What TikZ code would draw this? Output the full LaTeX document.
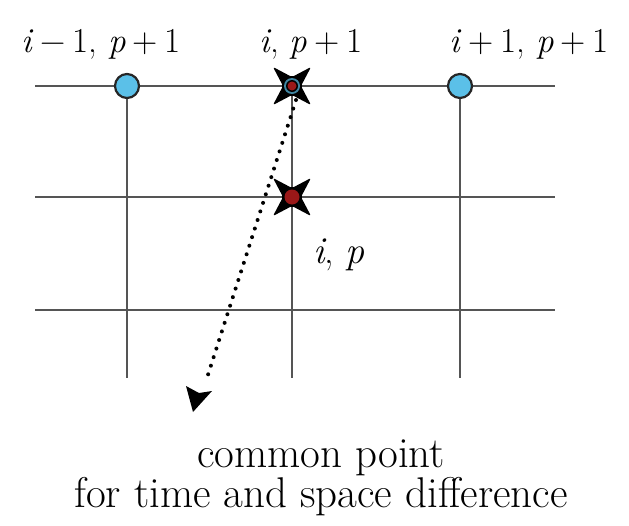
\documentclass[tikz,border=0pt]{standalone}
\usetikzlibrary{arrows.meta}
\definecolor{nodeblue}{HTML}{5BC0E8}
\definecolor{darkred}{HTML}{9A1818}
\definecolor{gridgray}{HTML}{555555}
\tikzset{
  grid/.style={draw=gridgray, line width=2pt},
  bluept/.style={circle, draw=black!85, line width=2.2pt, fill=nodeblue, minimum size=24pt, inner sep=0pt},
  lbl/.style={font=\fontsize{35}{40}\selectfont, inner sep=0pt, anchor=base},
  captext/.style={font=\fontsize{43}{37.5}\selectfont, inner sep=0pt, anchor=base, align=center},
  dotline/.style={line width=4pt, dash pattern=on 0pt off 9pt, line cap=round}
}
\newcommand{\mystar}[1]{%
  \fill[black, rounded corners=2pt] (#1) ++(19pt,19pt)
    -- ++(-19pt,-10pt) -- ++(-19pt,10pt) -- ++(10pt,-19pt) -- ++(-10pt,-19pt)
    -- ++(19pt,10pt) -- ++(19pt,-10pt) -- ++(-10pt,19pt) -- cycle;}
\newcommand{\msp}{\hspace{0.2em}}
\begin{document}
\begin{tikzpicture}[x=1pt,y=-1pt]
\useasboundingbox (0,0) rectangle (629,525);
\fill[white] (0,0) rectangle (629,525);
% grid
\coordinate (h1a) at (35,86);  \coordinate (h1b) at (555,86);
\coordinate (h2a) at (35,197); \coordinate (h2b) at (555,197);
\coordinate (h3a) at (35,310); \coordinate (h3b) at (555,310);
\coordinate (v1a) at (127,86); \coordinate (v1b) at (127,378);
\coordinate (v2a) at (292,86); \coordinate (v2b) at (292,378);
\coordinate (v3a) at (460,86); \coordinate (v3b) at (460,378);
\draw[grid] (h1a) -- (h1b);
\draw[grid] (h2a) -- (h2b);
\draw[grid] (h3a) -- (h3b);
\draw[grid] (v1a) -- (v1b);
\draw[grid] (v2a) -- (v2b);
\draw[grid] (v3a) -- (v3b);
% points
\node[bluept] (pL) at (127,86) {};
\node[bluept] (pR) at (460,86) {};
\coordinate (pT) at (292,86);
\coordinate (pC) at (292,197);
% arrow
\coordinate (tip) at (193,412);
\draw[dotline] (296,100) -- (206,381);
\fill[black] (tip) -- (186,386) -- (199,393) -- (212,391) -- cycle;
% stars
\mystar{pT}
\fill[nodeblue!70!black] (pT) circle (8pt);
\fill[black] (pT) circle (6pt);
\fill[darkred] (pT) circle (4.5pt);
\mystar{pC}
\fill[darkred] (pC) circle (7.5pt);
% labels
\node[lbl] (l1) at (101,52) {\textit{i}\msp−\msp1, \textit{p}\msp+\msp1};
\node[lbl] (l2) at (311,52) {\textit{i}, \textit{p}\msp+\msp1};
\node[lbl] (l3) at (529,52) {\textit{i}\msp+\msp1, \textit{p}\msp+\msp1};
\node[lbl, font=\fontsize{38}{44}\selectfont] (l4) at (339,263) {\textit{i}, \textit{p}};
\node[captext] (c1) at (321,507) {common point\\for time and space difference};
\end{tikzpicture}
\end{document}
